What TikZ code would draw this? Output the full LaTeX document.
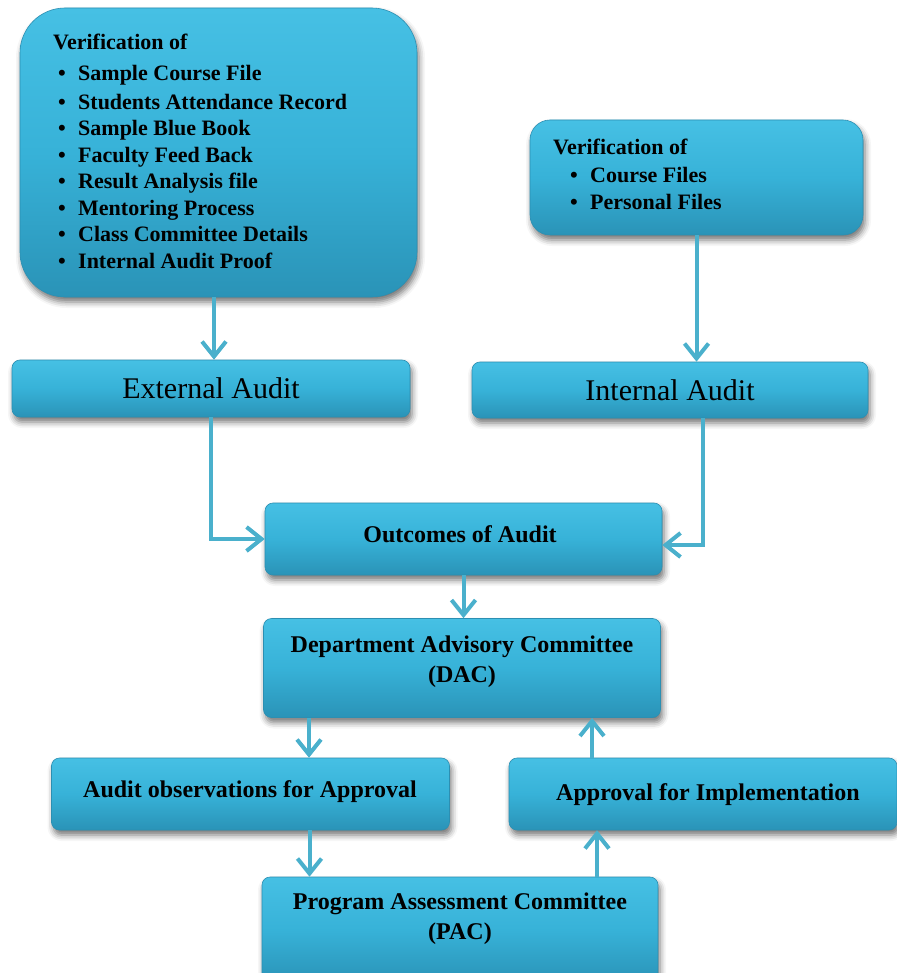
\documentclass[tikz,border=0pt]{standalone}
\usepackage{fontspec}
\setmainfont{Liberation Serif}
\usetikzlibrary{arrows.meta,shadows.blur}
\definecolor{boxtop}{HTML}{46C0E4}
\definecolor{boxmid}{HTML}{37B2D8}
\definecolor{boxbot}{HTML}{2A93B7}
\definecolor{boxedge}{HTML}{2C8FB2}
\definecolor{arrowc}{HTML}{4AB0CC}
\begin{document}
\begin{tikzpicture}[x=1pt,y=-1pt,
  box/.style={draw=boxedge, line width=0.6pt, top color=boxtop, bottom color=boxbot, middle color=boxmid,
    rounded corners=8pt, inner sep=0pt,
    blur shadow={shadow xshift=2pt, shadow yshift=-5pt, shadow blur radius=6pt, shadow opacity=55}},
  labb/.style={font=\fontsize{24}{30}\selectfont\bfseries, align=center, inner sep=0pt, text=black},
  labr/.style={font=\fontsize{30}{34}\selectfont, align=center, inner sep=0pt, text=black},
  listtxt/.style={font=\fontsize{22}{26.5}\selectfont\bfseries, align=left, inner sep=0pt, anchor=north west, text=black},
  arr/.style={draw=arrowc, line width=4pt, -{Straight Barb[length=15pt,width=24pt]}}
]
\useasboundingbox (0,0) rectangle (896,973);

% boxes
\node[box, rounded corners=45pt, minimum width=397pt, minimum height=289pt] (big) at (218.5,152.5) {};
\node[box, rounded corners=20pt, minimum width=333pt, minimum height=115pt] (rv) at (696.5,177.5) {};
\node[box, minimum width=398pt, minimum height=57pt] (ext) at (211,388.5) {};
\node[box, minimum width=396pt, minimum height=56pt] (int) at (670,390) {};
\node[box, minimum width=397pt, minimum height=72pt] (out) at (463.5,539) {};
\node[box, minimum width=397pt, minimum height=99pt] (dac) at (462,668) {};
\node[box, minimum width=398pt, minimum height=72pt] (obs) at (250.5,794) {};
\node[box, minimum width=388pt, minimum height=72pt] (app) at (703,794) {};
\node[box, minimum width=396pt, minimum height=106pt] (pac) at (460,930) {};

% texts
\node[listtxt] (bigt) at (53,34) {Verification of\\[4pt]
\hspace*{5pt}\makebox[20pt][l]{\textbullet}Sample Course File\\[2.5pt]
\hspace*{5pt}\makebox[20pt][l]{\textbullet}Students Attendance Record\\
\hspace*{5pt}\makebox[20pt][l]{\textbullet}Sample Blue Book\\
\hspace*{5pt}\makebox[20pt][l]{\textbullet}Faculty Feed Back\\
\hspace*{5pt}\makebox[20pt][l]{\textbullet}Result Analysis file\\
\hspace*{5pt}\makebox[20pt][l]{\textbullet}Mentoring Process\\
\hspace*{5pt}\makebox[20pt][l]{\textbullet}Class Committee Details\\
\hspace*{5pt}\makebox[20pt][l]{\textbullet}Internal Audit Proof};
\node[listtxt, font=\fontsize{22}{27.5}\selectfont\bfseries] (rvt) at (553,139) {Verification of\\
\hspace*{17pt}\makebox[20pt][l]{\textbullet}Course Files\\
\hspace*{17pt}\makebox[20pt][l]{\textbullet}Personal Files};
\node[labr] (extt) at (211,388) {External Audit};
\node[labr] (intt) at (670,390) {Internal Audit};
\node[labb] (outt) at (460,534) {Outcomes of Audit};
\node[labb] (dact) at (462,662) {Department Advisory Committee\\(DAC)};
\node[labb] (obst) at (250,792) {Audit observations for Approval};
\node[labb] (appt) at (708,795) {Approval for Implementation};
\node[labb] (pact) at (460,919) {Program Assessment Committee\\(PAC)};

% connectors
\draw[arr] ([xshift=-4.5pt]big.south) -- ([xshift=-4.5pt]big.south |- ext.north);
\draw[arr] (rv.south) -- (rv.south |- int.north);
\draw[arr] (ext.south) |- (out.west);
\draw[arr] ([xshift=33pt]int.south) |- ([yshift=-6pt]out.east);
\draw[arr] (out.south) -- (out.south |- dac.north);
\draw[arr] ([xshift=-153pt]dac.south) -- ([xshift=-153pt]dac.south |- obs.north);
\draw[arr] ([xshift=59pt]obs.south) -- ([xshift=59pt]obs.south |- pac.north);
\draw[arr] ([xshift=137pt]pac.north) -- ([xshift=137pt]pac.north |- app.south);
\draw[arr] ([xshift=-111pt]app.north) -- ([xshift=-111pt]app.north |- dac.south);
\end{tikzpicture}
\end{document}
